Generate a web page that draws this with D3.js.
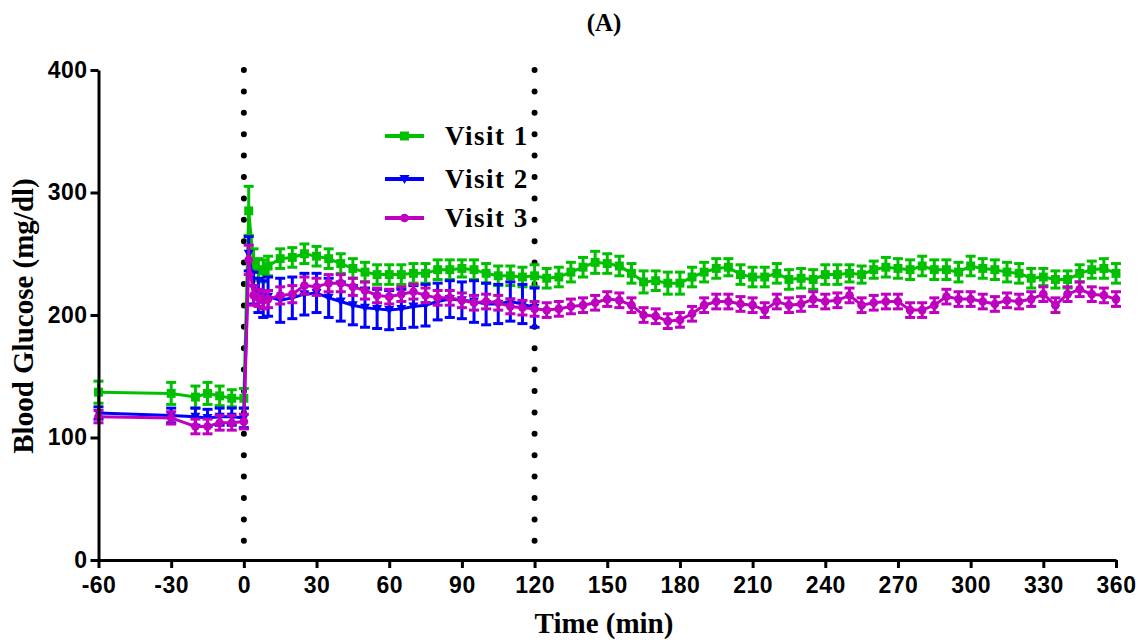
<!DOCTYPE html>
<html>
<head>
<meta charset="utf-8">
<script src="https://cdn.jsdelivr.net/npm/d3@7"></script>
<style>
  body { margin: 0; background: #fff; }
  .tick text { font-family: "Liberation Sans", Arial, sans-serif; font-weight: bold; }
</style>
</head>
<body>
<div id="chart"></div>
<script>
let w = 1142;
let h = 644;

// time points (min)
const times = [-60, -30, -20, -15, -10, -5, 0, 2, 4, 6, 8, 10,
    15, 20, 25, 30, 35, 40, 45, 50, 55, 60, 65, 70, 75, 80, 85, 90, 95, 100, 105, 110, 115, 120,
    125, 130, 135, 140, 145, 150, 155, 160, 165, 170, 175, 180, 185, 190, 195, 200, 205, 210, 215, 220, 225, 230, 235, 240, 245,
    250, 255, 260, 265, 270, 275, 280, 285, 290, 295, 300, 305, 310, 315, 320, 325, 330, 335, 340, 345, 350, 355, 360];

// Visit 1 (green)
const visit1 = [137, 136, 133, 136, 134, 132, 132, 285, 242, 237, 236, 240,
    246, 247, 250, 248, 246, 242, 238, 235, 233, 233, 233, 234, 234, 237, 237, 238, 237, 234, 232, 232, 231, 232,
    230, 231, 235, 239, 243, 242, 240, 234, 227, 228, 226, 226, 231, 235, 238, 239, 233, 231, 231, 234, 229, 230, 229, 233, 233,
    234, 233, 237, 239, 238, 237, 240, 237, 237, 235, 240, 238, 237, 235, 234, 230, 231, 229, 229, 234, 237, 238, 234];
const visit1Err = [9, 9, 9, 9, 8, 7, 8, 20, 12, 9, 9, 8,
    8, 8, 8, 8, 8, 8, 8, 8, 8, 8, 8, 8, 8, 8, 8, 7, 8, 8, 8, 8, 8, 9,
    8, 8, 8, 8, 9, 8, 8, 8, 9, 8, 9, 9, 8, 8, 8, 7, 8, 8, 8, 8, 8, 8, 8, 8, 8,
    7, 7, 7, 8, 8, 8, 8, 8, 8, 8, 8, 8, 8, 8, 8, 8, 7, 7, 7, 7, 7, 8, 8];

// Visit 2 (blue), recorded up to 120 min
const visit2 = [120, 118, 117, 116, 117, 117, 116, 250, 222, 216, 213, 215,
    212, 214, 217, 218, 214, 211, 208, 206, 205, 204, 205, 207, 208, 211, 213, 212, 211, 209, 209, 211, 209, 206];
const visit2Err = [5, 6, 7, 7, 7, 7, 8, 14, 13, 14, 15, 16,
    18, 17, 17, 16, 16, 16, 16, 16, 16, 16, 16, 17, 17, 15, 15, 15, 17, 17, 16, 16, 16, 16];

// Visit 3 (magenta)
const visit3 = [117, 116, 109, 109, 112, 112, 113, 245, 216, 214, 212, 213,
    216, 217, 224, 223, 226, 226, 223, 220, 216, 215, 217, 219, 216, 214, 214, 212, 210, 211, 210, 207, 206, 205,
    204, 205, 207, 208, 210, 213, 212, 208, 200, 199, 195, 196, 201, 208, 211, 211, 209, 208, 204, 211, 208, 209, 213, 211, 212,
    216, 208, 210, 211, 211, 204, 204, 208, 215, 213, 213, 211, 209, 212, 211, 213, 217, 208, 217, 221, 217, 216, 213];
const visit3Err = [5, 5, 6, 6, 6, 6, 6, 12, 8, 7, 7, 7,
    7, 7, 7, 7, 7, 7, 7, 7, 6, 6, 6, 6, 6, 6, 6, 6, 6, 6, 6, 6, 6, 6,
    6, 6, 6, 6, 6, 6, 6, 6, 6, 6, 6, 6, 6, 6, 6, 6, 6, 6, 6, 6, 6, 6, 6, 6, 6,
    6, 6, 6, 6, 6, 6, 6, 6, 6, 6, 6, 6, 6, 6, 6, 6, 6, 6, 6, 6, 6, 6, 6];

const xTicks = [-60, -30, 0, 30, 60, 90, 120, 150, 180, 210, 240, 270, 300, 330, 360];
const yTicks = [0, 100, 200, 300, 400];
const markerLines = [0, 120];

let svg = d3.select("#chart")
    .append("svg")
    .attr("width", w)
    .attr("height", h);

let xScale = d3.scaleLinear().domain([-60, 360]).range([98.5, 1116]);
let yScale = d3.scaleLinear().domain([0, 400]).range([560, 70]);

// dotted reference lines
svg.selectAll("line.ref")
    .data(markerLines)
    .enter()
    .append("line")
    .attr("class", "ref")
    .attr("x1", d => xScale(d))
    .attr("x2", d => xScale(d))
    .attr("y1", yScale(400))
    .attr("y2", 545)
    .style("stroke", "#000")
    .style("stroke-width", 6)
    .style("stroke-linecap", "round")
    .style("stroke-dasharray", "0,21.4");

let series = [
    { name: "Visit 1", color: "#00c000", values: visit1, err: visit1Err, shape: d3.symbolSquare },
    { name: "Visit 2", color: "#0000ff", values: visit2, err: visit2Err, shape: "tri" },
    { name: "Visit 3", color: "#c000c0", values: visit3, err: visit3Err, shape: d3.symbolCircle }
];

let line = d3.line()
    .x(d => xScale(d.t))
    .y(d => yScale(d.v));

function drawMarker(g, s, x, y) {
    if (s.shape === "tri") {
        g.append("path")
            .attr("d", `M${x - 5},${y - 4}L${x + 5},${y - 4}L${x},${y + 5}Z`)
            .style("fill", s.color);
    } else {
        g.append("path")
            .attr("transform", `translate(${x},${y})`)
            .attr("d", d3.symbol().type(s.shape).size(s.shape === d3.symbolSquare ? 80 : 60)())
            .style("fill", s.color);
    }
}

series.forEach(s => {
    let pts = s.values.map((v, i) => ({ t: times[i], v: v, e: s.err[i] }));
    let g = svg.append("g");

    // error bars
    let eb = g.selectAll("g.eb")
        .data(pts)
        .enter()
        .append("g")
        .style("stroke", s.color)
        .style("stroke-width", 3);
    eb.append("line")
        .attr("x1", d => xScale(d.t)).attr("x2", d => xScale(d.t))
        .attr("y1", d => yScale(d.v - d.e)).attr("y2", d => yScale(d.v + d.e));
    eb.append("line")
        .attr("x1", d => xScale(d.t) - 5).attr("x2", d => xScale(d.t) + 5)
        .attr("y1", d => yScale(d.v + d.e)).attr("y2", d => yScale(d.v + d.e));
    eb.append("line")
        .attr("x1", d => xScale(d.t) - 5).attr("x2", d => xScale(d.t) + 5)
        .attr("y1", d => yScale(d.v - d.e)).attr("y2", d => yScale(d.v - d.e));

    g.append("path")
        .datum(pts)
        .attr("d", line)
        .style("fill", "none")
        .style("stroke", s.color)
        .style("stroke-width", 3);

    pts.forEach(p => drawMarker(g, s, xScale(p.t), yScale(p.v)));
});

// axes
let xAxis = d3.axisBottom(xScale).tickValues(xTicks).tickFormat(d => String(d))
    .tickSize(8).tickPadding(9).tickSizeOuter(0);
let yAxis = d3.axisLeft(yScale).tickValues(yTicks).tickFormat(d => String(d))
    .tickSize(8).tickPadding(3).tickSizeOuter(0);

let gx = svg.append("g")
    .attr("transform", "translate(0," + yScale(0) + ")")
    .call(xAxis);
let gy = svg.append("g")
    .attr("transform", "translate(" + xScale(-60) + ",0)")
    .call(yAxis);

[gx, gy].forEach(g => {
    g.select(".domain").style("stroke", "#000").style("stroke-width", 3);
    g.selectAll(".tick line").style("stroke", "#000").style("stroke-width", 3);
    g.selectAll(".tick text")
        .style("font-size", "23px")
        .style("letter-spacing", "0.5px")
        .style("fill", "#000");
});

const serif = "'Liberation Serif', 'Times New Roman', Times, serif";

// titles
svg.append("text")
    .attr("x", 604).attr("y", 31)
    .attr("text-anchor", "middle")
    .style("font-family", serif)
    .style("font-weight", "bold")
    .style("font-size", "25px")
    .text("(A)");

svg.append("text")
    .attr("x", 604).attr("y", 633)
    .attr("text-anchor", "middle")
    .style("font-family", serif)
    .style("font-weight", "bold")
    .style("font-size", "29px")
    .text("Time (min)");

svg.append("text")
    .attr("transform", "translate(33,316) rotate(-90)")
    .attr("text-anchor", "middle")
    .style("font-family", serif)
    .style("font-weight", "bold")
    .style("font-size", "29px")
    .text("Blood Glucose (mg/dl)");

// legend
let legend = svg.append("g");
series.forEach((s, i) => {
    let ly = [136, 179, 218][i];
    legend.append("line")
        .attr("x1", 385).attr("x2", 424)
        .attr("y1", ly).attr("y2", ly)
        .style("stroke", s.color)
        .style("stroke-width", 4);
    drawMarker(legend, s, 404.5, ly);
    legend.append("text")
        .attr("x", 445).attr("y", ly + 9)
        .style("font-family", serif)
        .style("font-weight", "bold")
        .style("font-size", "27px")
        .style("letter-spacing", "1.5px")
        .text(s.name);
});
</script>
</body>
</html>
